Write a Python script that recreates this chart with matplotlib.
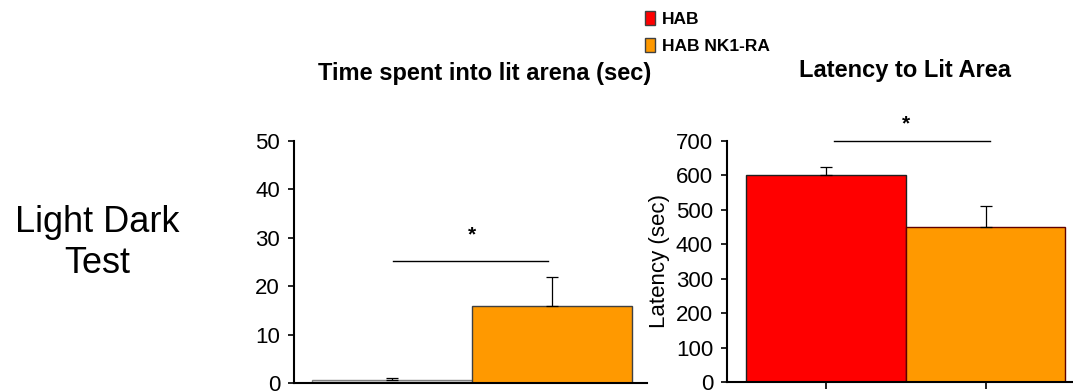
import matplotlib
matplotlib.use("Agg")
import matplotlib.pyplot as plt
from matplotlib.patches import Patch

plt.rcParams['font.family'] = ['Liberation Sans', 'DejaVu Sans']

# data
groups = ["HAB", "HAB NK1-RA"]
time_lit = [0.6, 16.0]
time_lit_err = [0.4, 6.0]
latency = [600, 450]
latency_err = [25, 60]

time_colors = ["#d4d4d4", "#ff9900"]
time_edges = ["#808080", "#404040"]
lat_colors = ["#ff0000", "#ff9900"]
lat_edges = ["#202020", "#600000"]

fig = plt.figure(figsize=(10.73, 3.92), dpi=100)
W, H = 1073, 392

def px_axes(x0, x1, ytop, ybot):
    return fig.add_axes([x0 / W, (H - ybot) / H, (x1 - x0) / W, (ybot - ytop) / H])

# left panel: time in lit arena
ax1 = px_axes(294, 647, 141, 383)
ax1.bar([0, 1], time_lit, width=1.0, color=time_colors, edgecolor=time_edges, linewidth=1)
ax1.errorbar([0, 1], time_lit, yerr=[[0, 0], time_lit_err], fmt='none',
             ecolor='black', elinewidth=0.9, capsize=4, capthick=0.9)
ax1.set_xlim(-0.612, 1.594)
ax1.set_ylim(0, 50)
ax1.set_yticks(range(0, 51, 10))
ax1.set_xticks([])
ax1.plot([0.006, 0.975], [25.2, 25.2], color='black', lw=1)
ax1.text(0.5, 30.5, "*", ha='center', va='center', fontsize=15, fontweight='bold')

# right panel: latency
ax2 = px_axes(727, 1073, 141, 382)
ax2.bar([0, 1], latency, width=1.0, color=lat_colors, edgecolor=lat_edges, linewidth=1)
ax2.errorbar([0, 1], latency, yerr=[[0, 0], latency_err], fmt='none',
             ecolor='black', elinewidth=0.9, capsize=4, capthick=0.9)
ax2.set_xlim(-0.616, 1.547)
ax2.set_ylim(0, 700)
ax2.set_yticks(range(0, 701, 100))
ax2.set_xticks([0, 1])
ax2.set_xticklabels(["", ""])
ax2.set_ylabel("Latency (sec)", fontsize=16, labelpad=4)
ax2.plot([0.053, 1.03], [700, 700], color='black', lw=1, clip_on=False)
ax2.text(0.5, 750, "*", ha='center', va='center', fontsize=15, fontweight='bold')

for ax in (ax1, ax2):
    for s in ("top", "right"):
        ax.spines[s].set_visible(False)
    ax.spines["left"].set_linewidth(1.5)
    ax.spines["bottom"].set_linewidth(1.5)
    ax.tick_params(axis='y', labelsize=16, length=4, width=1.2, pad=6)
    ax.tick_params(axis='x', length=5, width=1.2)

fig.text(485 / W, 1 - 80 / H, "Time spent into lit arena (sec)",
         ha='center', va='baseline', fontsize=17, fontweight='bold')
fig.text(905 / W, 1 - 77 / H, "Latency to Lit Area",
         ha='center', va='baseline', fontsize=17, fontweight='bold')
fig.text(97 / W, 1 - 243 / H, "Light Dark\nTest", ha='center', va='center',
         fontsize=26, linespacing=1.2)

handles = [Patch(facecolor=c, edgecolor='#404040') for c in lat_colors]
fig.legend(handles, groups, loc='upper left', bbox_to_anchor=(645 / W, 1 - 11 / H),
           frameon=False, prop={'weight': 'bold', 'size': 12.5},
           handlelength=0.6, handleheight=0.9, handletextpad=0.4, labelspacing=0.6,
           borderaxespad=0, borderpad=0)

fig.savefig("out.png", dpi=100)
